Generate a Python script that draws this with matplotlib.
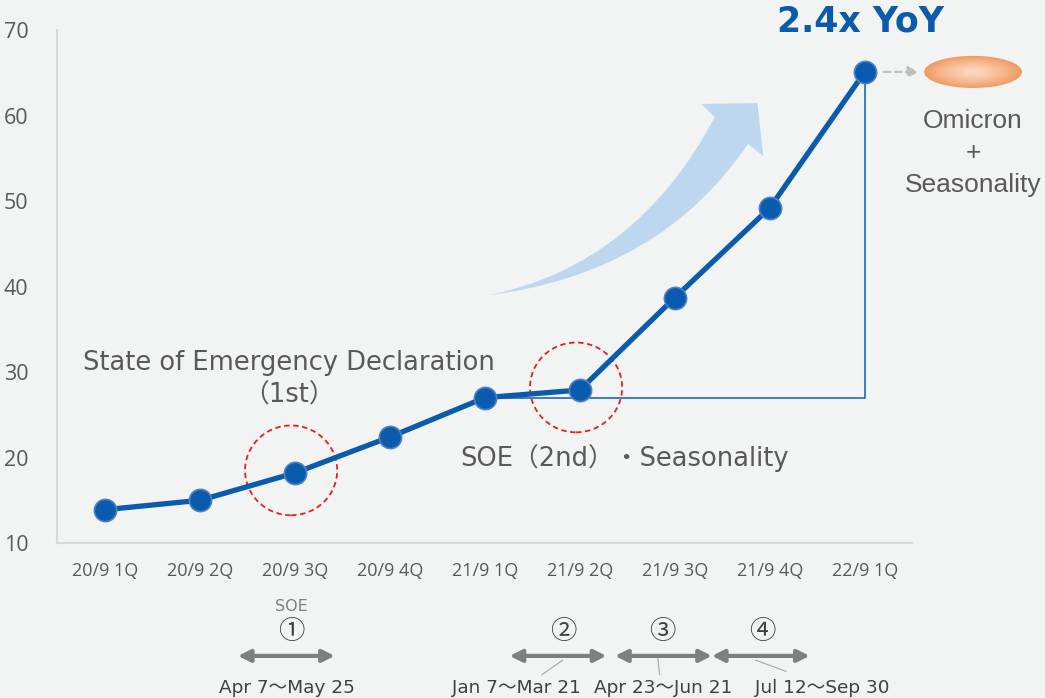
import matplotlib
matplotlib.use("Agg")
import matplotlib.pyplot as plt
from matplotlib.patches import Ellipse, PathPatch
from matplotlib.path import Path
import numpy as np

# quarterly values
quarters = ["20/9 1Q", "20/9 2Q", "20/9 3Q", "20/9 4Q", "21/9 1Q",
            "21/9 2Q", "21/9 3Q", "21/9 4Q", "22/9 1Q"]
values = [13.9, 15.0, 18.2, 22.4, 27.0, 27.9, 38.7, 49.2, 65.1]
yticks = [10, 20, 30, 40, 50, 60, 70]

# state-of-emergency periods, spans given on the quarter axis
soe_marks = ["①", "②", "③", "④"]
soe_start = [1.40, 4.26, 5.37, 6.39]
soe_end = [2.42, 5.28, 6.39, 7.42]
soe_mark_x = [1.96, 4.83, 5.87, 6.92]
soe_dates = ["Apr 7～May 25", "Jan 7～Mar 21", "Apr 23～Jun 21", "Jul 12～Sep 30"]
soe_date_x = [1.92, 4.33, 5.88, 7.55]

BG = "#f2f3f3"
BLUE = "#0a5aad"
GRAY = "#595959"

plt.rcParams['font.family'] = ['DejaVu Sans', 'Noto Sans CJK JP']

fig = plt.figure(figsize=(10.45, 6.98), dpi=100, facecolor=BG)
ax = fig.add_axes([0.055, 0.222, 0.818, 0.735], facecolor=BG)

x = np.arange(len(quarters))
ax.set_xlim(-0.5, len(quarters) - 0.5)
ax.set_ylim(10, 70)

# curved "growth" arrow in the background
tail = (4.05, 39.0)
verts = [tail, (5.60, 42.6), (6.42, 59.8), (6.28, 61.35), (6.87, 61.46),
         (6.93, 55.26), (6.77, 56.67), (5.85, 41.6), tail, tail]
codes = [Path.MOVETO, Path.CURVE3, Path.CURVE3, Path.LINETO, Path.LINETO,
         Path.LINETO, Path.LINETO, Path.CURVE3, Path.CURVE3, Path.CLOSEPOLY]
ax.add_patch(PathPatch(Path(verts, codes), facecolor="#bdd7ee",
                       edgecolor="none", zorder=1))

# YoY bracket from 21/9 1Q to 22/9 1Q
ax.plot([x[4], x[8], x[8]], [values[4], values[4], values[8]],
        color="#2e75b6", lw=1.3, zorder=2)

ax.plot(x, values, color=BLUE, lw=3.8, marker="o", markersize=16,
        markerfacecolor=BLUE, markeredgecolor="#4f82c4", markeredgewidth=1.2,
        zorder=4, solid_capstyle="round")

# dashed red circles around the SOE quarters
for i in (2, 5):
    ax.add_patch(Ellipse((x[i] - 0.04, values[i] + 0.3), 0.97, 10.5,
                         fill=False, edgecolor="#ee1c1c", lw=1.3,
                         linestyle=(0, (3, 2)), zorder=3))

ax.text(1.94, 31.0, "State of Emergency Declaration", ha="center",
        va="center", fontsize=18.5, color=GRAY)
ax.text(1.94, 27.2, "（1st）", ha="center", va="center", fontsize=18.5,
        color=GRAY)
ax.text(5.47, 19.9, "SOE（2nd）・Seasonality", ha="center", va="center",
        fontsize=18.5, color=GRAY)

ax.text(7.96, 71.0, "2.4x YoY", ha="center", va="center", fontsize=25,
        fontweight="bold", color=BLUE, clip_on=False)

# omicron bubble with a soft radial gradient
ecx, ecy = 9.14, values[8]
edge = np.array([0.94, 0.60, 0.38])
centre = np.array([0.99, 0.87, 0.78])
n = 30
for k in range(n):
    f = 1 - k / n
    c = edge + (centre - edge) * (1 - f) ** 0.8
    ax.add_patch(Ellipse((ecx, ecy), 1.03 * f, 3.75 * f, facecolor=c,
                         edgecolor="none", zorder=3, clip_on=False))
ax.annotate("", xy=(8.6, values[8]), xytext=(8.17, values[8]),
            arrowprops=dict(arrowstyle="-|>", color="#bfbfbf", lw=1.6,
                            linestyle=(0, (3, 2)), mutation_scale=16),
            annotation_clip=False)
for txt, yy in zip(["Omicron", "+", "Seasonality"], [59.4, 55.6, 51.9]):
    ax.text(ecx, yy, txt, ha="center", va="center", fontsize=19,
            color=GRAY, family="Liberation Sans", clip_on=False)

# SOE period arrows under the axis
ax.text(1.96, 2.6, "SOE", ha="center", va="center", fontsize=11.5,
        color="#7f7f7f", clip_on=False)
for mark, x0, x1, mx in zip(soe_marks, soe_start, soe_end, soe_mark_x):
    ax.annotate("", xy=(x1, -3.2), xytext=(x0, -3.2),
                arrowprops=dict(arrowstyle="<|-|>", color="#7f7f7f", lw=3,
                                mutation_scale=18, shrinkA=0, shrinkB=0),
                annotation_clip=False)
    ax.text(mx, -0.4, mark, ha="center", va="center", fontsize=19,
            color="#404040", family=["Noto Sans CJK JP"], clip_on=False)

for dx, date in zip(soe_date_x, soe_dates):
    ax.text(dx, -7.0, date, ha="center", va="center", fontsize=13.3,
            color="#404040", clip_on=False)

# leader lines from arrows to the date labels
leaders = [((4.82, -3.7), (4.60, -5.4)), ((5.82, -3.4), (5.84, -5.4)),
           ((6.85, -3.7), (7.17, -5.0))]
for (lx0, ly0), (lx1, ly1) in leaders:
    ax.plot([lx0, lx1], [ly0, ly1], color="#a6a6a6", lw=0.8, clip_on=False)

ax.set_xticks(x)
ax.set_xticklabels(quarters, fontsize=13, color=GRAY, family="Open Sans")
ax.set_yticks(yticks)
ax.set_yticklabels([str(v) for v in yticks], fontsize=15.5, color=GRAY,
                   family="Open Sans")
ax.tick_params(length=0)
ax.tick_params(axis="y", pad=21)
ax.tick_params(axis="x", pad=14)

for s in ("top", "right"):
    ax.spines[s].set_visible(False)
for s in ("left", "bottom"):
    ax.spines[s].set_color("#d9d9d9")
    ax.spines[s].set_linewidth(1.5)

fig.savefig("out.png", dpi=100, facecolor=BG)
